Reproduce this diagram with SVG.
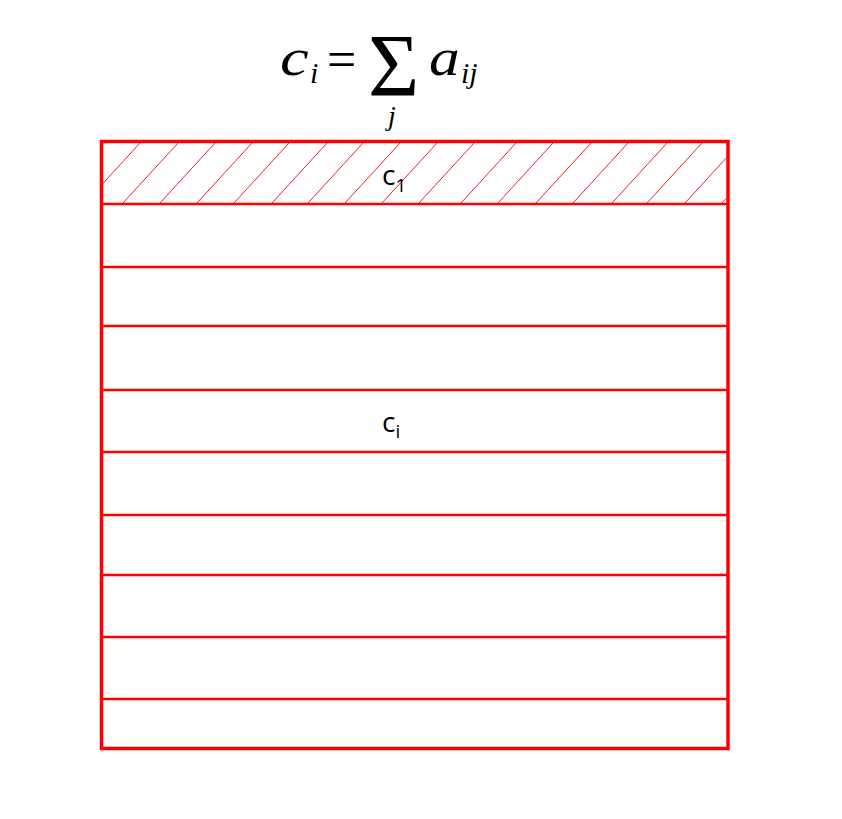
<svg xmlns="http://www.w3.org/2000/svg" width="842" height="819" viewBox="0 0 842 819">
<style>
.m{font-family:"Liberation Serif","Times New Roman",serif;font-style:italic;fill:#000}
.s{font-family:"Liberation Serif","Times New Roman",serif;fill:#000}
.lbl{font-family:"Open Sans","Liberation Sans",sans-serif;fill:#000}
.row{stroke:#f00;stroke-width:2.5;fill:none}
.hat{stroke:#e8202e;stroke-width:1;fill:none}
</style>
<defs>
<clipPath id="band"><rect x="103" y="143" width="623" height="60"/></clipPath>
</defs>
<rect width="842" height="819" fill="#fff"/>
<g id="formula">
<g transform="translate(280,75) scale(1.22,1)"><text class="m" font-size="53">c</text></g>
<text class="m" x="310" y="83" font-size="30">i</text>
<text class="s" x="327" y="77" font-size="52">=</text>
<text class="s" x="368" y="95" font-size="88">Σ</text>
<g transform="translate(429,75) scale(1.16,1)"><text class="m" font-size="53">a</text></g>
<text class="m" x="461" y="83" font-size="30">ij</text>
<text class="m" x="388" y="125" font-size="28">j</text>
</g>
<g id="hatch" clip-path="url(#band)">
<path class="hat" d="M47,203L102,143M85,203L140,143M123,203L178,143M160,203L215,143M197,203L252,143M234,203L289,143M272,203L327,143M308,203L363,143M345,203L400,143M382,203L437,143M419,203L474,143M461,203L516,143M498,203L553,143M536,203L591,143M573,203L628,143M612,203L667,143M647,203L702,143M685,203L740,143M722,203L777,143"/>
</g>
<g id="rows">
<line class="row" x1="101" y1="204" x2="728" y2="204"/>
<line class="row" x1="101" y1="267" x2="728" y2="267"/>
<line class="row" x1="101" y1="326" x2="728" y2="326"/>
<line class="row" x1="101" y1="390" x2="728" y2="390"/>
<line class="row" x1="101" y1="452" x2="728" y2="452"/>
<line class="row" x1="101" y1="515" x2="728" y2="515"/>
<line class="row" x1="101" y1="575" x2="728" y2="575"/>
<line class="row" x1="101" y1="637" x2="728" y2="637"/>
<line class="row" x1="101" y1="699" x2="728" y2="699"/>
</g>
<g id="matrix">
<rect x="101.5" y="141.5" width="626.5" height="607" fill="none" stroke="#f00" stroke-width="3.5"/>
</g>
<g id="label-c1">
<text class="lbl" x="382" y="185" font-size="28">c<tspan font-size="19" dy="7">1</tspan></text>
</g>
<g id="label-ci">
<text class="lbl" x="382" y="432" font-size="28">c<tspan font-size="19" dy="6">i</tspan></text>
</g>
</svg>
